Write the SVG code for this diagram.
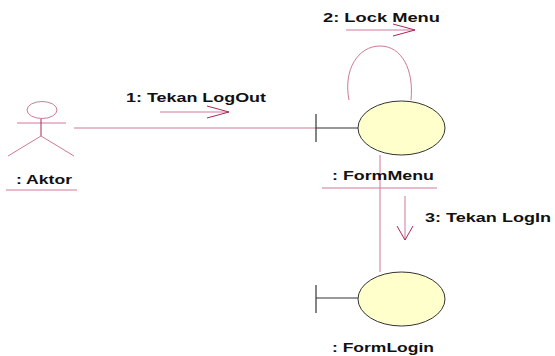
<svg xmlns="http://www.w3.org/2000/svg" width="555" height="356" viewBox="0 0 555 356">
<style>
.t{font-family:"Liberation Sans",Arial,sans-serif;font-weight:bold;font-size:12.5px;fill:#111}
.ln{stroke:#d07898;stroke-width:1;fill:none}
.ar{stroke:#a8285a;stroke-width:1;fill:none}
.ob{fill:#ffffcc;stroke:#333;stroke-width:1}
.bd{stroke:#333;stroke-width:1.2;fill:none}
</style>
<rect width="555" height="356" fill="#fff"/>
<g id="connectors">
<line class="ln" x1="74" y1="128" x2="316" y2="128"/>
<path class="ln" d="M349,100 C343,70 358,46 380,46 C402,46 414,70 411,100"/>
<line class="ln" x1="380" y1="155" x2="380" y2="272"/>
</g>
<g id="msg1">
<text class="t" x="126" y="102" textLength="140" lengthAdjust="spacingAndGlyphs">1: Tekan LogOut</text>
<line class="ln" x1="160" y1="112" x2="229" y2="112"/>
<polyline class="ar" points="207,106 229,112 207,118"/>
</g>
<g id="msg2">
<text class="t" x="323" y="22" textLength="117" lengthAdjust="spacingAndGlyphs">2: Lock Menu</text>
<line class="ln" x1="346" y1="30" x2="415" y2="30"/>
<polyline class="ar" points="393,24 415,30 393,36"/>
</g>
<g id="msg3">
<text class="t" x="425" y="222" textLength="126" lengthAdjust="spacingAndGlyphs">3: Tekan LogIn</text>
<line class="ln" x1="405" y1="196" x2="405" y2="240"/>
<polyline class="ar" points="397,226 405,240 413,226"/>
</g>
<g id="aktor">
<ellipse cx="42" cy="110" rx="15" ry="8.5" class="ln"/>
<line class="ln" x1="17" y1="123" x2="66" y2="123"/>
<line class="ar" x1="41" y1="119" x2="41" y2="136"/>
<line class="ln" x1="41" y1="136" x2="8" y2="156"/>
<line class="ln" x1="41" y1="136" x2="74" y2="156"/>
<text class="t" x="16" y="184" textLength="56" lengthAdjust="spacingAndGlyphs">: Aktor</text>
<line class="ln" x1="6" y1="190" x2="77" y2="190"/>
</g>
<g id="formmenu">
<line class="bd" x1="316" y1="114" x2="316" y2="142"/>
<line class="bd" x1="316" y1="128" x2="358" y2="128"/>
<ellipse class="ob" cx="401.5" cy="128" rx="43.5" ry="27"/>
<text class="t" x="332" y="180" textLength="102" lengthAdjust="spacingAndGlyphs">: FormMenu</text>
<line class="ln" x1="322" y1="188" x2="437" y2="188"/>
</g>
<g id="formlogin">
<line class="bd" x1="316" y1="285" x2="316" y2="313"/>
<line class="bd" x1="316" y1="298" x2="358" y2="298"/>
<ellipse class="ob" cx="401.5" cy="299" rx="43.5" ry="27"/>
<text class="t" x="332" y="352" textLength="102" lengthAdjust="spacingAndGlyphs">: FormLogin</text>
</g>
</svg>
